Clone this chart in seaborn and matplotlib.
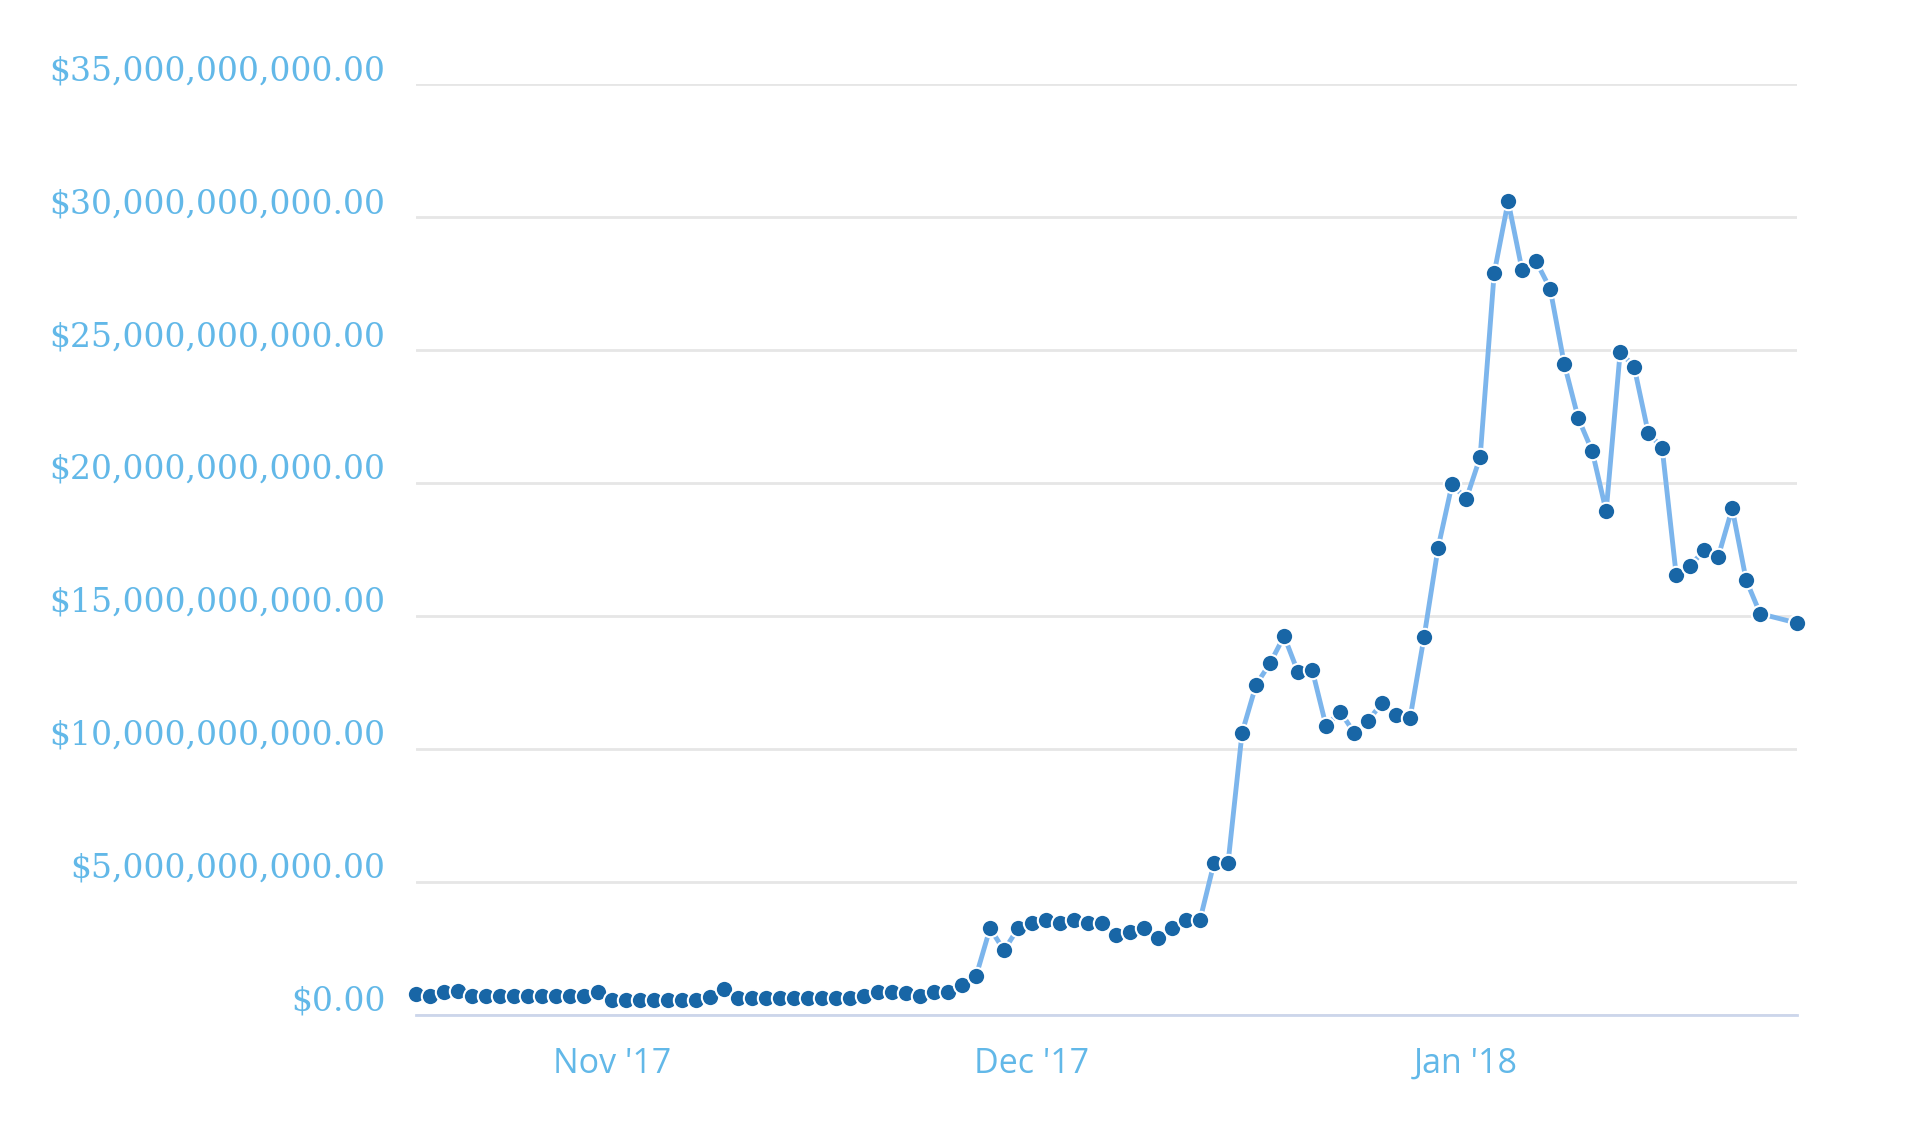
import pandas as pd
import numpy as np
import seaborn as sns
import matplotlib.pyplot as plt
import matplotlib.dates as mdates
import matplotlib.transforms as mtrans
from matplotlib.ticker import FuncFormatter, MultipleLocator

#========================= Data ===============================================
# daily points Oct 18 2017 .. Jan 22 2018, plus one last reading on Jan 24
dates = list(pd.date_range('2017-10-18', '2018-01-22', freq='D')) + [pd.Timestamp('2018-01-24 15:00')]

# values in billions of dollars
oct_vals = [0.77, 0.73, 0.87, 0.89, 0.73, 0.73, 0.73, 0.73, 0.73, 0.73, 0.73,
            0.73, 0.73, 0.87]
nov_vals = [0.56, 0.56, 0.56, 0.56, 0.56, 0.56, 0.58, 0.68, 0.98, 0.62,
            0.62, 0.62, 0.62, 0.62, 0.62, 0.62, 0.62, 0.62, 0.70, 0.87,
            0.87, 0.83, 0.73, 0.87, 0.87, 1.11, 1.46, 3.26, 2.43, 3.26]
dec_vals = [3.47, 3.59, 3.47, 3.59, 3.47, 3.47, 3.00, 3.13, 3.26, 2.88,
            3.26, 3.59, 3.59, 5.73, 5.73, 10.62, 12.42, 13.23, 14.25, 12.88,
            12.99, 10.86, 11.41, 10.62, 11.07, 11.74, 11.29, 11.18, 14.23, 17.58,
            19.97]
jan_vals = [19.39, 20.98, 27.89, 30.60, 28.00, 28.34, 27.31, 24.50, 22.45, 21.21,
            18.94, 24.94, 24.37, 21.90, 21.32, 16.55, 16.89, 17.48, 17.23, 19.05,
            16.35, 15.09, 14.74]

values = np.array(oct_vals + nov_vals + dec_vals + jan_vals) * 1e9
df = pd.DataFrame({'date': dates, 'value': values})

#========================= Plot ===============================================
line_c = '#7cb5ec'
dot_c = '#1866a6'
label_c = '#62b8e8'
axis_c = '#ccd6eb'

sns.set_style('white')
fig = plt.figure(figsize=(19.08, 11.24), dpi=100)
ax = fig.add_axes([0.218, 0.097, 0.7238, 0.828])

sns.lineplot(data=df, x='date', y='value', ax=ax, color=line_c, linewidth=3.5,
             marker='o', markersize=12.5, markerfacecolor=dot_c,
             markeredgecolor='white', markeredgewidth=1.5, clip_on=False, zorder=3)

ax.set_xlim(df['date'].iloc[0], df['date'].iloc[-1])
ax.set_ylim(0, 35e9)
ax.yaxis.set_major_locator(MultipleLocator(5e9))
ax.yaxis.set_major_formatter(FuncFormatter(lambda v, p: '${:,.2f}'.format(v)))
ax.xaxis.set_major_locator(mdates.MonthLocator())
ax.xaxis.set_major_formatter(mdates.DateFormatter("%b '%y"))

ax.grid(axis='y', color='#e6e6e6', linewidth=2)
ax.grid(axis='x', visible=False)
for s in ['top', 'right', 'left']:
    ax.spines[s].set_visible(False)
ax.spines['bottom'].set_color(axis_c)
ax.spines['bottom'].set_linewidth(2)

ax.tick_params(axis='y', length=0, pad=22, labelcolor=label_c, labelsize=23.8)
ax.tick_params(axis='x', length=20, width=1.8, color=axis_c, pad=3,
               labelcolor=label_c, labelsize=24.5)

# y labels sit a little above their gridlines in the original
shift = mtrans.ScaledTranslation(0, 12 / 72, fig.dpi_scale_trans)
for t in ax.get_yticklabels():
    t.set_family('DejaVu Serif')
    t.set_transform(t.get_transform() + shift)
for t in ax.get_xticklabels():
    t.set_family('Open Sans')
ax.set_xlabel('')
ax.set_ylabel('')

fig.savefig('out.png', dpi=100)
